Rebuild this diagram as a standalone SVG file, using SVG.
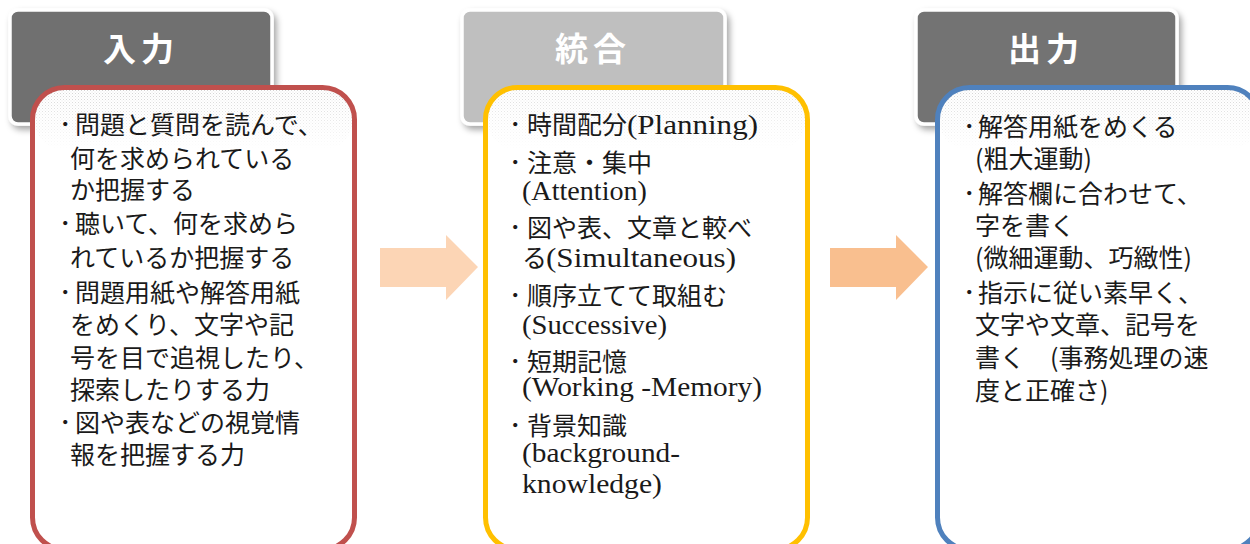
<svg xmlns="http://www.w3.org/2000/svg" width="1250" height="544" viewBox="0 0 1250 544">
<defs>
<style>
.hdr{stroke:#ffffff;stroke-width:3.5}
.htxt{font-family:"Noto Sans CJK JP","Noto Sans",sans-serif;font-weight:700;font-size:33px;fill:#ffffff;letter-spacing:5px;text-anchor:middle}
.box{fill:#ffffff;stroke-width:5}
.t{font-family:"Noto Sans CJK JP",sans-serif;font-size:25px;fill:#1a1a1a}
.l{font-family:"Liberation Serif","Noto Sans CJK JP",serif;font-size:27px;fill:#1a1a1a}
</style>
<filter id="sh" x="-10%" y="-10%" width="130%" height="140%">
<feDropShadow dx="3" dy="4" stdDeviation="3" flood-color="#000" flood-opacity="0.35"/>
</filter>
<pattern id="dots" width="3" height="3" patternUnits="userSpaceOnUse">
<rect x="0" y="0" width="1" height="1" fill="#9a9a9a"/>
<rect x="1.5" y="1.5" width="1" height="1" fill="#bdbdbd"/>
</pattern>
<linearGradient id="fade" x1="0" y1="0" x2="0" y2="1">
<stop offset="0" stop-color="#fff" stop-opacity="0.8"/>
<stop offset="1" stop-color="#fff" stop-opacity="0"/>
</linearGradient>
<mask id="m1" maskUnits="userSpaceOnUse" x="0" y="85" width="1250" height="70">
<rect x="0" y="85" width="1250" height="65" fill="url(#fade)"/>
</mask>
</defs>

<g id="connectors">
<path d="M380 248 H446 V235 L478 267 L446 300 V287 H380 Z" fill="#fcd5b5"/>
<path d="M830 248 H896 V235 L928 267 L896 300 V287 H830 Z" fill="#f9bf8f"/>
</g>

<g id="node-input">
<rect class="hdr" x="10" y="10" width="262" height="114" rx="8" fill="#6f6f6f" filter="url(#sh)"/>
<text class="htxt" x="141" y="61">入力</text>
<rect class="box" x="32.5" y="87.5" width="322" height="462" rx="32" stroke="#c0504d"/>
<rect x="35" y="90" width="317" height="60" rx="28" fill="url(#dots)" mask="url(#m1)" opacity="0.6"/>
<text class="t" y="133.5"><tspan x="59">･</tspan><tspan x="75">問題と質問を読んで、</tspan></text>
<text class="t" x="70" y="167.5">何を求められている</text>
<text class="t" x="70" y="198.5">か把握する</text>
<text class="t" y="232.5"><tspan x="59">･</tspan><tspan x="75">聴いて、何を求めら</tspan></text>
<text class="t" x="70" y="266.5">れているか把握する</text>
<text class="t" y="301.5"><tspan x="59">･</tspan><tspan x="75">問題用紙や解答用紙</tspan></text>
<text class="t" x="70" y="333.5">をめくり、文字や記</text>
<text class="t" x="70" y="366.5">号を目で追視したり、</text>
<text class="t" x="70" y="398.5">探索したりする力</text>
<text class="t" y="431.5"><tspan x="59">･</tspan><tspan x="75">図や表などの視覚情</tspan></text>
<text class="t" x="70" y="463.5">報を把握する力</text>
</g>

<g id="node-integration">
<rect class="hdr" x="462" y="10" width="263" height="114" rx="8" fill="#bfbfbf" filter="url(#sh)"/>
<text class="htxt" x="593" y="61">統合</text>
<rect class="box" x="485.5" y="87.5" width="322" height="462" rx="32" stroke="#ffc000"/>
<rect x="488" y="90" width="317" height="60" rx="28" fill="url(#dots)" mask="url(#m1)" opacity="0.5"/>
<text class="t" y="134"><tspan x="509">･</tspan><tspan x="527">時間配分</tspan></text>
<text class="l" x="627" y="134" textLength="131" lengthAdjust="spacingAndGlyphs">(Planning)</text>
<text class="t" y="171.5"><tspan x="509">･</tspan><tspan x="527">注意・集中</tspan></text>
<text class="l" x="522" y="200" textLength="125" lengthAdjust="spacingAndGlyphs">(Attention)</text>
<text class="t" y="236.5"><tspan x="509">･</tspan><tspan x="527">図や表、文章と較べ</tspan></text>
<text class="t" x="522" y="267">る</text>
<text class="l" x="546" y="267" textLength="190" lengthAdjust="spacingAndGlyphs">(Simultaneous)</text>
<text class="t" y="304.5"><tspan x="509">･</tspan><tspan x="527">順序立てて取組む</tspan></text>
<text class="l" x="522" y="334" textLength="145" lengthAdjust="spacingAndGlyphs">(Successive)</text>
<text class="t" y="370.5"><tspan x="509">･</tspan><tspan x="527">短期記憶</tspan></text>
<text class="l" x="522" y="396" textLength="240" lengthAdjust="spacingAndGlyphs">(Working -Memory)</text>
<text class="t" y="434.5"><tspan x="509">･</tspan><tspan x="527">背景知識</tspan></text>
<text class="l" x="522" y="462" textLength="158" lengthAdjust="spacingAndGlyphs">(background-</text>
<text class="l" x="522" y="493" textLength="140" lengthAdjust="spacingAndGlyphs">knowledge)</text>
</g>

<g id="node-output">
<rect class="hdr" x="916" y="10" width="261" height="114" rx="8" fill="#737373" filter="url(#sh)"/>
<text class="htxt" x="1046" y="61">出力</text>
<rect class="box" x="937.5" y="87.5" width="322" height="462" rx="32" stroke="#4f81bd"/>
<rect x="940" y="90" width="317" height="60" rx="28" fill="url(#dots)" mask="url(#m1)" opacity="0.6"/>
<text class="t" y="135.5"><tspan x="963">･</tspan><tspan x="978">解答用紙をめくる</tspan></text>
<text class="t" x="975" y="167.5">(粗大運動)</text>
<text class="t" y="202.5"><tspan x="963">･</tspan><tspan x="978">解答欄に合わせて、</tspan></text>
<text class="t" x="975" y="234.5">字を書く</text>
<text class="t" x="975" y="266.5">(微細運動、巧緻性)</text>
<text class="t" y="301.5"><tspan x="963">･</tspan><tspan x="978">指示に従い素早く、</tspan></text>
<text class="t" x="975" y="333.5">文字や文章、記号を</text>
<text class="t" x="975" y="366.5">書く　(事務処理の速</text>
<text class="t" x="975" y="399.5">度と正確さ)</text>
</g>
</svg>
